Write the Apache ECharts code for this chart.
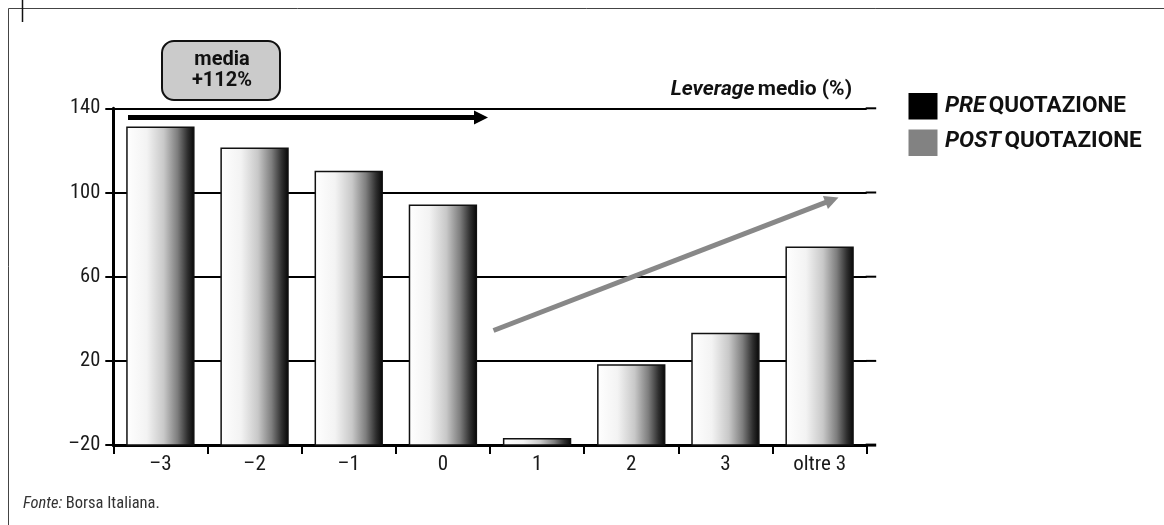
<!DOCTYPE html>
<html>
<head>
<meta charset="utf-8">
<script src="https://cdn.jsdelivr.net/npm/echarts@6/dist/echarts.min.js"></script>
<style>
  html, body { margin: 0; padding: 0; background: #fff; }
  #chart { width: 1164px; height: 525px; }
</style>
</head>
<body>
<div id="chart"></div>
<script>
// Leverage medio (%) per anno rispetto alla quotazione
const categories = ['–3', '–2', '–1', '0', '1', '2', '3', 'oltre 3'];
const leverage = [131, 121, 110, 94, -17, 18, 33, 74];
const yTicks = [-20, 20, 60, 100, 140];
const yMin = -20;
const yMax = 140;
const yStep = 40;

const COND = '"Roboto Condensed", "DejaVu Sans Condensed", sans-serif';
const SANS = 'Roboto, "Liberation Sans", sans-serif';

const chart = echarts.init(document.getElementById('chart'), null, { renderer: 'canvas' });

const barFill = new echarts.graphic.LinearGradient(0, 0, 1, 0, [
  { offset: 0, color: '#ffffff' },
  { offset: 0.3, color: '#f3f3f3' },
  { offset: 0.55, color: '#c8c8c8' },
  { offset: 0.75, color: '#7e7e7e' },
  { offset: 0.9, color: '#2e2e2e' },
  { offset: 1, color: '#050505' }
]);

const option = {
  animation: false,
  backgroundColor: '#ffffff',
  grid: { left: 113.3, right: 297.3, top: 108.3, bottom: 79.9, containLabel: false },
  xAxis: {
    type: 'category',
    data: categories,
    boundaryGap: true,
    axisLine: { show: true, onZero: false, lineStyle: { color: '#000', width: 3 } },
    axisTick: { show: true, interval: 0, length: 9, lineStyle: { color: '#000', width: 2 } },
    axisLabel: { interval: 0, margin: 9, color: '#1a1a1a', fontSize: 21, fontFamily: COND },
    splitLine: { show: false }
  },
  yAxis: {
    type: 'value',
    min: yMin,
    max: yMax,
    interval: yStep,
    axisLine: { show: true, onZero: false, lineStyle: { color: '#000', width: 3 } },
    axisTick: { show: true, length: 8, lineStyle: { color: '#000', width: 2 } },
    axisLabel: {
      margin: 13, color: '#1a1a1a', fontSize: 20.5, fontFamily: COND,
      formatter: v => (v < 0 ? '–' + Math.abs(v) : String(v))
    },
    splitLine: { show: true, lineStyle: { color: '#000', width: 2 } }
  },
  series: [{
    type: 'custom',
    z: 3,
    data: categories.map((c, i) => [i, leverage[i]]),
    encode: { x: 0, y: 1 },
    renderItem: function (params, api) {
      const i = api.value(0);
      const v = api.value(1);
      const top = api.coord([i, v]);
      const base = api.coord([i, yMin]);
      const w = api.size([1, 0])[0] * 0.71;
      return {
        type: 'rect',
        shape: { x: top[0] - w / 2, y: top[1], width: w, height: base[1] - top[1] },
        style: { fill: barFill, stroke: '#111', lineWidth: 1.5 }
      };
    }
  }]
};

chart.setOption(option);

// Horizontal rules run a little past the last category boundary
const band = chart.convertToPixel({ xAxisIndex: 0 }, 1) - chart.convertToPixel({ xAxisIndex: 0 }, 0);
const gridRight = chart.convertToPixel({ xAxisIndex: 0 }, categories.length - 1) + band / 2;
const ruleEnd = gridRight + 9.5;
const extensions = yTicks.map(t => {
  const y = chart.convertToPixel({ yAxisIndex: 0 }, t);
  return {
    type: 'line',
    shape: { x1: gridRight - 1, y1: y, x2: ruleEnd, y2: y },
    style: { stroke: '#000', lineWidth: t === yMin ? 3 : 2 }
  };
});

// Arrow: shaft plus triangular head
function arrow(x1, y1, x2, y2, color, width, headLen, headHalf) {
  const ang = Math.atan2(y2 - y1, x2 - x1);
  const cx = Math.cos(ang), sy = Math.sin(ang);
  const bx = x2 - cx * headLen, by = y2 - sy * headLen;
  return [
    { type: 'line', shape: { x1: x1, y1: y1, x2: bx + cx, y2: by + sy },
      style: { stroke: color, lineWidth: width } },
    { type: 'polygon', shape: { points: [
        [x2, y2],
        [bx - sy * headHalf, by + cx * headHalf],
        [bx + sy * headHalf, by - cx * headHalf]
      ] }, style: { fill: color } }
  ];
}

function richLabel(x, y, text, size, align, family, weight, color) {
  return { type: 'text', x: x, y: y, style: {
    text: text, align: align, verticalAlign: 'middle',
    rich: {
      i: { fontFamily: family, fontWeight: weight, fontStyle: 'italic', fontSize: size, fill: color },
      b: { fontFamily: family, fontWeight: weight, fontSize: size, fill: color }
    } } };
}

const graphics = [].concat(
  extensions,
  [
    // page frame
    { type: 'line', shape: { x1: 8.5, y1: 8.5, x2: 1164, y2: 8.5 }, style: { stroke: '#444', lineWidth: 1 } },
    { type: 'line', shape: { x1: 8.5, y1: 8.5, x2: 8.5, y2: 525 }, style: { stroke: '#444', lineWidth: 1 } },
    { type: 'line', shape: { x1: 22.5, y1: 0, x2: 22.5, y2: 22 }, style: { stroke: '#111', lineWidth: 1.5 } },

    // average box
    { type: 'rect', shape: { x: 162, y: 41, width: 118, height: 59, r: 12 },
      style: { fill: '#cbcbcb', stroke: '#111', lineWidth: 2 } },
    { type: 'text', x: 222, y: 59.5, style: { text: 'media', fontFamily: SANS, fontWeight: 'bold', fontSize: 20,
      fill: '#111', align: 'center', verticalAlign: 'middle' } },
    { type: 'text', x: 222, y: 81, style: { text: '+112%', fontFamily: SANS, fontWeight: 'bold', fontSize: 20,
      fill: '#111', align: 'center', verticalAlign: 'middle' } },

    // axis title
    richLabel(852, 90, '{i|Leverage} {b|medio (%)}', 21, 'right', SANS, 'bold', '#111'),

    // legend
    { type: 'rect', shape: { x: 908.5, y: 93, width: 29, height: 26.5 }, style: { fill: '#000' } },
    { type: 'rect', shape: { x: 908.5, y: 129.5, width: 29, height: 26.5 }, style: { fill: '#828282' } },
    richLabel(945, 106.5, '{i|PRE} {b|QUOTAZIONE}', 22.5, 'left', SANS, 'bold', '#111'),
    richLabel(945, 141.5, '{i|POST} {b|QUOTAZIONE}', 22.5, 'left', SANS, 'bold', '#111'),

    // source
    richLabel(23, 504, '{i|Fonte:} {b|Borsa Italiana.}', 16.5, 'left', COND, 'normal', '#333')
  ],
  arrow(128, 117.5, 488, 117.5, '#000', 5, 14, 7),
  arrow(493.5, 330.5, 838.5, 197.5, '#888', 5, 14, 7)
);

chart.setOption({ graphic: { elements: graphics } });
</script>
</body>
</html>
